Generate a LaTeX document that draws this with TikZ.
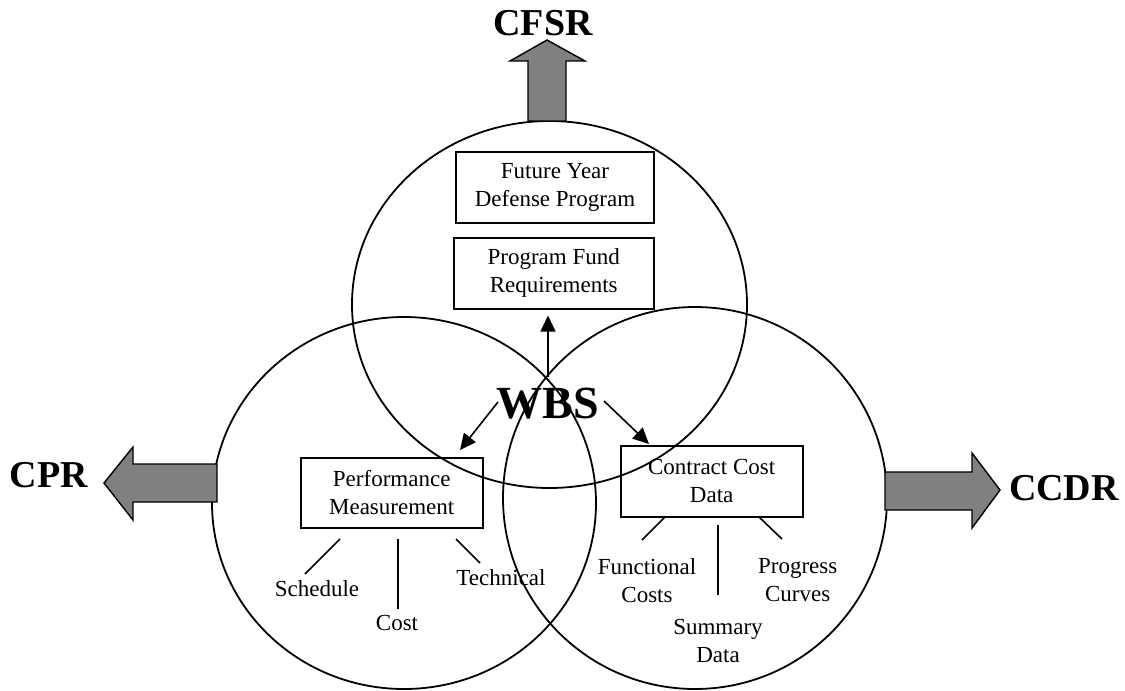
\documentclass[tikz,border=0pt]{standalone}
\usepackage{fontspec}
\setmainfont{Liberation Serif}
\usetikzlibrary{arrows.meta,calc}
\definecolor{arrowgray}{HTML}{808080}
\begin{document}
\begin{tikzpicture}[x=1pt,y=-1pt,
  ring/.style={line width=1.8pt},
  databox/.style={draw,line width=2pt,align=center,inner sep=0pt,font=\fontsize{23}{28}\selectfont},
  lbl/.style={align=center,inner sep=0pt,font=\fontsize{23}{28}\selectfont},
  big/.style={font=\fontsize{38}{40}\selectfont\bfseries,inner sep=0pt,anchor=base},
  huge/.style={font=\fontsize{46}{48}\selectfont\bfseries,inner sep=0pt,anchor=base},
  blockarrow/.style={draw,line width=1.4pt,fill=arrowgray,line join=miter},
  link/.style={line width=1.6pt},
  flow/.style={line width=1.6pt,-{Triangle[length=16pt,width=15pt]}}]
\useasboundingbox (0,0) rectangle (1125,691);

% the three areas
\draw[ring] (549.5,304.5) ellipse [x radius=197.5, y radius=183.5];
\draw[ring] (404,503) ellipse [x radius=192, y radius=186];
\draw[ring] (695,498) ellipse [x radius=192, y radius=191];

% block arrows
\draw[blockarrow] (528,121) -- (528,61) -- (510,61) -- (547,40) -- (585,61) -- (566,61) -- (566,121) -- cycle;
\draw[blockarrow] (217,464) -- (133,464) -- (133,447) -- (104,483) -- (133,520) -- (133,502) -- (217,502) -- cycle;
\draw[blockarrow] (885,472) -- (972,472) -- (972,453) -- (1000,490) -- (972,528) -- (972,510) -- (885,510) -- cycle;

% outer labels
\node[big] (cfsr) at (543,35) {CFSR};
\node[big] (cpr) at (49,487) {CPR};
\node[big] (ccdr) at (1064,500) {CCDR};

% boxes
\node[databox,minimum width=198pt,minimum height=71pt] (fydp) at (555,187.4) {Future Year\\Defense Program};
\node[databox,minimum width=200pt,minimum height=71pt] (pfr) at (553.7,273) {Program Fund\\Requirements};
\node[databox,minimum width=182pt,minimum height=70pt] (pm) at (391.7,493) {Performance\\Measurement};
\node[databox,minimum width=182pt,minimum height=70.7pt] (ccd) at (711.7,481.3) {Contract Cost\\Data};

% WBS
\node[huge] (wbs) at (548,418) {WBS};
\coordinate (wbsU) at (548,377);
\coordinate (wbsL) at (498,402);
\coordinate (wbsR) at (604,401);
\coordinate (pmTip) at (460,450);
\coordinate (ccdTip) at (649,444);
\draw[flow,shorten >=6pt] (wbsU) -- (wbsU |- pfr.south);
\draw[flow] (wbsL) -- (pmTip);
\draw[flow] (wbsR) -- (ccdTip);

% sub labels
\node[lbl,anchor=base] (sched) at (317,596.7) {Schedule};
\node[lbl,anchor=base] (cost) at (397,630.7) {Cost};
\node[lbl,anchor=base] (tech) at (501,585.7) {Technical};
\node[lbl] (func) at (647,580.2) {Functional\\Costs};
\node[lbl] (prog) at (797.7,580.2) {Progress\\Curves};
\node[lbl] (summ) at (718,641.2) {Summary\\Data};

% connector ends
\coordinate (s1) at (340,539); \coordinate (s2) at (305,574);
\coordinate (c1) at (398,539); \coordinate (c2) at (398,609);
\coordinate (t1) at (456,539); \coordinate (t2) at (480,563);
\coordinate (f1) at (665,517); \coordinate (f2) at (642,540);
\coordinate (m1) at (718,525); \coordinate (m2) at (718,595);
\coordinate (p1) at (759,517); \coordinate (p2) at (782,539);
\draw[link] (s1) -- (s2);
\draw[link] (c1) -- (c2);
\draw[link] (t1) -- (t2);
\draw[link] (f1) -- (f2);
\draw[link] (m1) -- (m2);
\draw[link] (p1) -- (p2);
\end{tikzpicture}
\end{document}
